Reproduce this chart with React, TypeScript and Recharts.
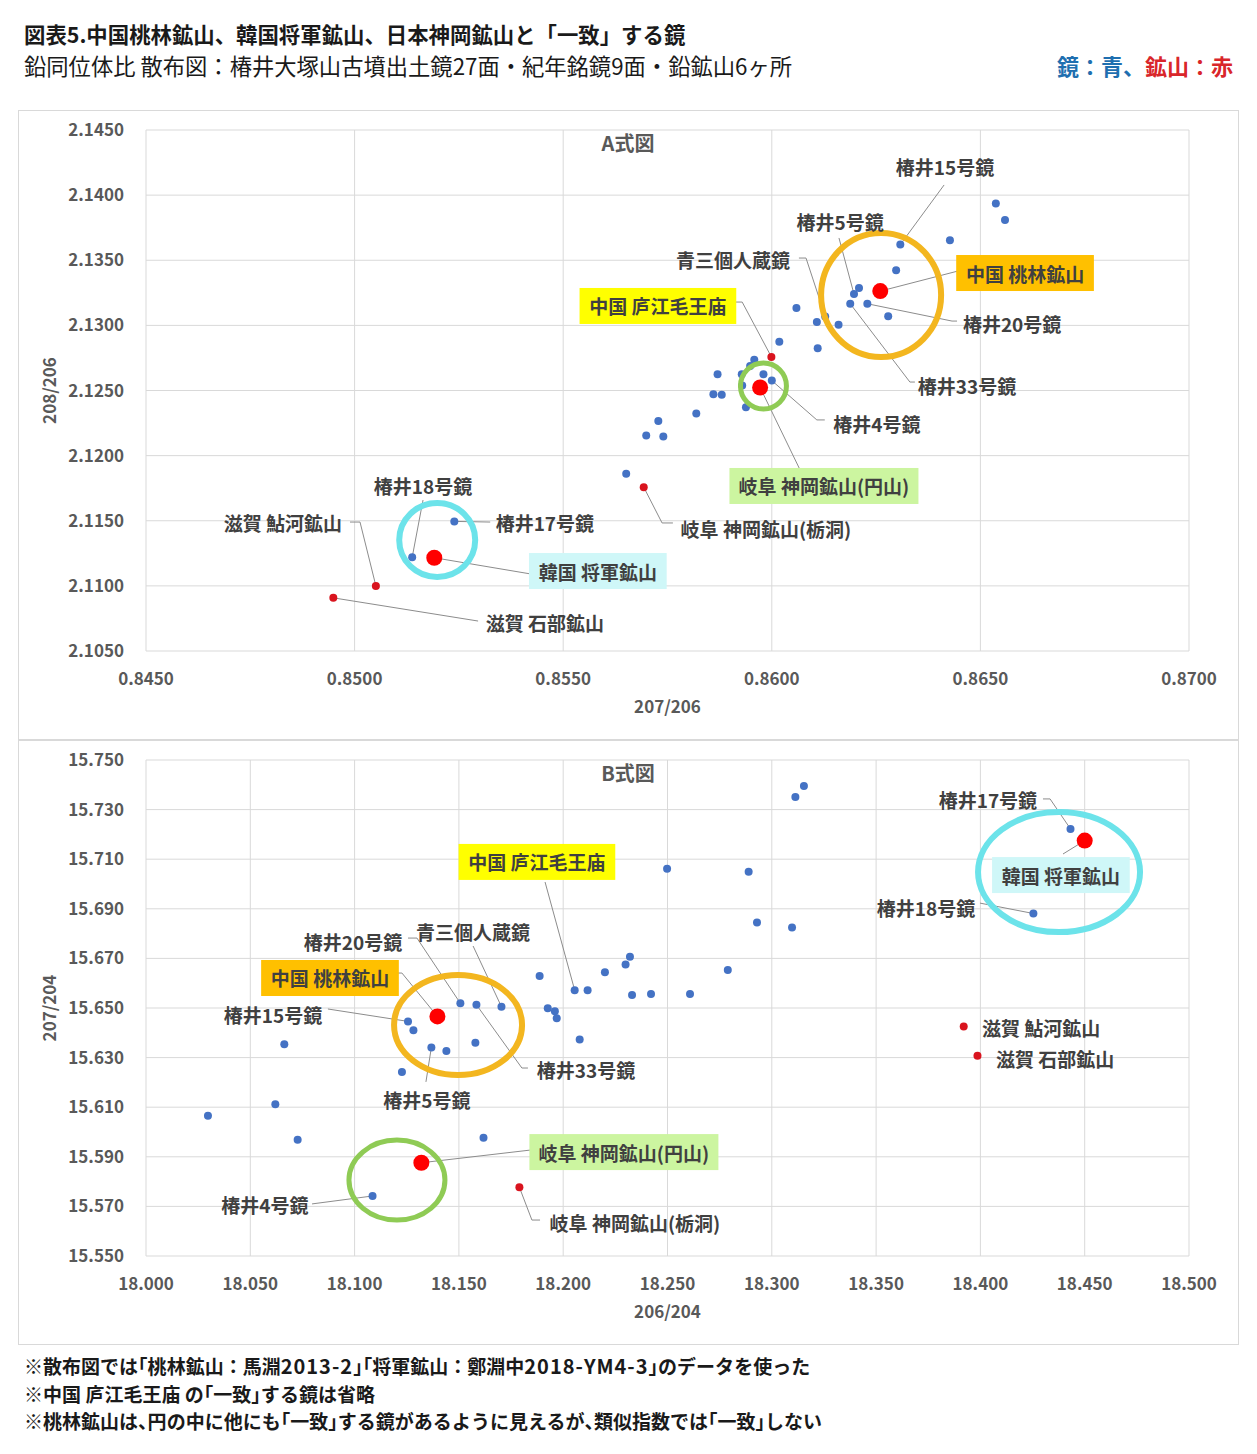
import React from 'react';
import {
  ScatterChart,
  Scatter,
  XAxis,
  YAxis,
  CartesianGrid,
  ReferenceDot,
  ReferenceLine,
} from 'recharts';

const FONT = '"Noto Sans CJK JP", "Noto Sans", sans-serif';

// ---- A式図 data (207/206 vs 208/206) ----
const mirrorsA = [
  [0.86537, 2.13936], [0.86559, 2.13809], [0.86427, 2.13653], [0.86308, 2.1362],
  [0.86298, 2.13423], [0.86209, 2.13286], [0.86197, 2.1324], [0.86188, 2.13166],
  [0.86229, 2.13166], [0.86279, 2.13071], [0.86059, 2.13133], [0.86108, 2.13026],
  [0.8616, 2.13005], [0.86128, 2.13069], [0.8611, 2.12824], [0.86018, 2.12875],
  [0.85958, 2.12737], [0.85948, 2.12688], [0.8587, 2.12624], [0.85928, 2.12624],
  [0.8598, 2.12624], [0.86, 2.12576], [0.8586, 2.12471], [0.8588, 2.12468],
  [0.85929, 2.12538], [0.85938, 2.12372], [0.85819, 2.12324], [0.85728, 2.12266],
  [0.85699, 2.12154], [0.8574, 2.12146], [0.85651, 2.1186], [0.85239, 2.11495],
  [0.85138, 2.11219],
].map(([x, y]) => ({ x, y }));

const mainMinesA = [
  [0.8626, 2.13263], // 桃林
  [0.85972, 2.12523], // 円山
  [0.85191, 2.11216], // 将軍
].map(([x, y]) => ({ x, y }));

const otherMinesA = [
  [0.85999, 2.12758], // 庐江毛王庙
  [0.85693, 2.11758], // 栃洞
  [0.85051, 2.11], // 鮎河
  [0.84949, 2.10908], // 石部
].map(([x, y]) => ({ x, y }));

const xTicksA = [0.845, 0.85, 0.855, 0.86, 0.865, 0.87];
const yTicksA = [2.105, 2.11, 2.115, 2.12, 2.125, 2.13, 2.135, 2.14, 2.145];

// ---- B式図 data (206/204 vs 207/204) ----
const mirrorsB = [
  [18.2498, 15.7061], [18.1887, 15.6629], [18.2055, 15.6572], [18.2117, 15.6572],
  [18.22, 15.6644], [18.2299, 15.6675], [18.232, 15.6707], [18.233, 15.6552],
  [18.2421, 15.6556], [18.2608, 15.6556], [18.1926, 15.6499], [18.196, 15.6487],
  [18.1969, 15.6459], [18.2079, 15.6373], [18.1507, 15.6519], [18.1584, 15.6513],
  [18.1704, 15.6505], [18.1256, 15.6446], [18.1282, 15.641], [18.1368, 15.6341],
  [18.144, 15.6327], [18.1579, 15.636], [18.0663, 15.6354], [18.1227, 15.6242],
  [18.0297, 15.6066], [18.062, 15.6112], [18.0727, 15.5969], [18.1618, 15.5977],
  [18.1086, 15.5742], [18.3154, 15.7395], [18.3113, 15.7351], [18.2889, 15.7049],
  [18.2929, 15.6845], [18.3097, 15.6825], [18.2789, 15.6653], [18.4432, 15.7222],
  [18.4254, 15.6881],
].map(([x, y]) => ({ x, y }));

const mainMinesB = [
  [18.1397, 15.6466], // 桃林
  [18.132, 15.5876], // 円山
  [18.45, 15.7175], // 将軍
].map(([x, y]) => ({ x, y }));

const otherMinesB = [
  [18.179, 15.5777], // 栃洞
  [18.392, 15.6425], // 鮎河
  [18.3986, 15.6307], // 石部
].map(([x, y]) => ({ x, y }));

const xTicksB = [18.0, 18.05, 18.1, 18.15, 18.2, 18.25, 18.3, 18.35, 18.4, 18.45, 18.5];
const yTicksB = [15.55, 15.57, 15.59, 15.61, 15.63, 15.65, 15.67, 15.69, 15.71, 15.73, 15.75];

// ---- annotations ----
const YELLOW = '#FFFF00';
const ORANGE = '#FFC000';
const LIME = '#CCF5A0';
const AQUA = '#CFF7F8';

const labelsA = [
  { text: '椿井15号鏡', x: 0.86415, y: 2.14216 },
  { text: '椿井5号鏡', x: 0.86164, y: 2.13801 },
  { text: '青三個人蔵鏡', x: 0.85907, y: 2.13502 },
  { text: '中国 庐江毛王庙', x: 0.85727, y: 2.13149, bg: YELLOW },
  { text: '中国 桃林鉱山', x: 0.86607, y: 2.13402, bg: ORANGE },
  { text: '椿井20号鏡', x: 0.86576, y: 2.13018 },
  { text: '椿井33号鏡', x: 0.86468, y: 2.12535 },
  { text: '椿井4号鏡', x: 0.86252, y: 2.12243 },
  { text: '岐阜 神岡鉱山(円山)', x: 0.86125, y: 2.11767, bg: LIME },
  { text: '岐阜 神岡鉱山(栃洞)', x: 0.85986, y: 2.11444 },
  { text: '椿井18号鏡', x: 0.85164, y: 2.11774 },
  { text: '椿井17号鏡', x: 0.85456, y: 2.11483 },
  { text: '韓国 将軍鉱山', x: 0.85583, y: 2.11114, bg: AQUA },
  { text: '滋賀 鮎河鉱山', x: 0.84828, y: 2.11483 },
  { text: '滋賀 石部鉱山', x: 0.85456, y: 2.10722 },
];

const leadersA = [
  [[0.86308, 2.1362], [0.86413, 2.14078]],
  [[0.86161, 2.13671], [0.86197, 2.1324]],
  [[0.86065, 2.13517], [0.86082, 2.13517], [0.86128, 2.13069]],
  [[0.85914, 2.13179], [0.85929, 2.13179], [0.85999, 2.12758]],
  [[0.8626, 2.13263], [0.86446, 2.13417]],
  [[0.86229, 2.13166], [0.86432, 2.13033], [0.86444, 2.13033]],
  [[0.86188, 2.13166], [0.86331, 2.12565], [0.86343, 2.12565]],
  [[0.86, 2.12576], [0.86108, 2.12274], [0.86127, 2.12274]],
  [[0.85972, 2.12523], [0.86068, 2.11889]],
  [[0.85693, 2.11758], [0.85737, 2.11483], [0.85763, 2.11483]],
  [[0.85164, 2.11659], [0.85138, 2.11219]],
  [[0.85239, 2.11495], [0.85325, 2.1149]],
  [[0.85191, 2.11216], [0.85423, 2.11091]],
  [[0.84989, 2.1149], [0.85013, 2.1149], [0.85051, 2.11]],
  [[0.84949, 2.10908], [0.85296, 2.1073]],
];

const ringsA = [
  { x: 0.86262, y: 2.13233, rx: 60, ry: 62, color: '#F3B61F', w: 6 },
  { x: 0.8598, y: 2.12535, rx: 23, ry: 23, color: '#8FCB55', w: 5 },
  { x: 0.85198, y: 2.11352, rx: 38, ry: 37, color: '#6CE3EA', w: 6 },
];

const labelsB = [
  { text: '中国 庐江毛王庙', x: 18.1874, y: 15.7089, bg: YELLOW },
  { text: '青三個人蔵鏡', x: 18.1568, y: 15.681 },
  { text: '椿井20号鏡', x: 18.0992, y: 15.677 },
  { text: '中国 桃林鉱山', x: 18.0882, y: 15.6621, bg: ORANGE },
  { text: '椿井15号鏡', x: 18.0609, y: 15.6472 },
  { text: '椿井33号鏡', x: 18.2109, y: 15.6254 },
  { text: '椿井5号鏡', x: 18.1347, y: 15.6133 },
  { text: '岐阜 神岡鉱山(円山)', x: 18.2291, y: 15.5919, bg: LIME },
  { text: '椿井4号鏡', x: 18.057, y: 15.5706 },
  { text: '岐阜 神岡鉱山(栃洞)', x: 18.2344, y: 15.5637 },
  { text: '椿井17号鏡', x: 18.4036, y: 15.7339 },
  { text: '韓国 将軍鉱山', x: 18.4386, y: 15.7036, bg: AQUA },
  { text: '椿井18号鏡', x: 18.3739, y: 15.6907 },
  { text: '滋賀 鮎河鉱山', x: 18.4291, y: 15.6423 },
  { text: '滋賀 石部鉱山', x: 18.4358, y: 15.6298 },
];

const leadersB = [
  [[18.1913, 15.7008], [18.2055, 15.6572]],
  [[18.1568, 15.675], [18.1704, 15.6505]],
  [[18.1256, 15.6782], [18.1299, 15.6782], [18.1507, 15.6519]],
  [[18.1203, 15.6641], [18.1227, 15.6641], [18.1397, 15.6466]],
  [[18.0872, 15.6496], [18.1256, 15.6446]],
  [[18.1584, 15.6513], [18.1802, 15.6258], [18.1831, 15.6258]],
  [[18.1342, 15.6202], [18.1368, 15.6341]],
  [[18.132, 15.5876], [18.1841, 15.5927]],
  [[18.0796, 15.571], [18.1086, 15.5742]],
  [[18.179, 15.5777], [18.185, 15.5645], [18.1889, 15.5645]],
  [[18.43, 15.7343], [18.4334, 15.7343], [18.4432, 15.7222]],
  [[18.45, 15.7175], [18.4396, 15.7121]],
  [[18.3998, 15.6923], [18.4254, 15.6881]],
];

const ringsB = [
  { x: 18.1496, y: 15.6431, rx: 64, ry: 50, color: '#F3B61F', w: 6 },
  { x: 18.1203, y: 15.5806, rx: 48, ry: 40, color: '#8FCB55', w: 5 },
  { x: 18.4377, y: 15.7048, rx: 81, ry: 60, color: '#6CE3EA', w: 6 },
];

const notes = [
  '※散布図では「桃林鉱山：馬淵2013-2」「将軍鉱山：鄭淵中2018-YM4-3」のデータを使った',
  '※中国 庐江毛王庙 の「一致」する鏡は省略',
  '※桃林鉱山は、円の中に他にも「一致」する鏡があるように見えるが、類似指数では「一致」しない',
];

// rough text width so the coloured label boxes fit
const textWidth = (s: string, fs: number) => {
  let w = 0;
  for (const ch of s) {
    if (ch === ' ') w += 0.3;
    else if (ch === '(' || ch === ')') w += 0.35;
    else if (/[0-9]/.test(ch)) w += 0.56;
    else w += 1;
  }
  return w * fs;
};

// half-width brackets / commas like the original notes, slightly wider latin runs
const tight = (s: string) =>
  s.split(/([A-Za-z0-9\-]+)/).map((part, i) => {
    if (/^[A-Za-z0-9\-]+$/.test(part))
      return (
        <span key={i} style={{ fontSize: 20, letterSpacing: 1 }}>
          {part}
        </span>
      );
    return Array.from(part).map((ch, j) => {
      if (ch === '「' || ch === '」' || ch === '、')
        return (
          <span key={i + '-' + j} style={{ fontFeatureSettings: '"halt"' }}>
            {ch}
          </span>
        );
      return ch;
    });
  });

const LABEL_FS = 19;

type Label = { text: string; x: number; y: number; bg?: string };
type Ring = { x: number; y: number; rx: number; ry: number; color: string; w: number };

const dot = (r: number, fill: string) => (p: any) => (
  <circle cx={p.cx} cy={p.cy} r={r} fill={fill} />
);

type PanelProps = {
  top: number;
  height: number;
  title: string;
  xTitle: string;
  yTitle: string;
  digits: number;
  xTicks: number[];
  yTicks: number[];
  mirrors: { x: number; y: number }[];
  mainMines: { x: number; y: number }[];
  otherMines: { x: number; y: number }[];
  labels: Label[];
  leaders: number[][][];
  rings: Ring[];
};

const Panel: React.FC<PanelProps> = (props) => {
  const { top, height, digits, xTicks, yTicks } = props;
  const fmt = (v: number) => v.toFixed(digits);
  const tickStyle = { fill: '#595959', fontSize: 17, fontWeight: 700, fontFamily: FONT };
  const segments: { a: number[]; b: number[] }[] = [];
  props.leaders.forEach((pl) => {
    for (let i = 0; i < pl.length - 1; i++) segments.push({ a: pl[i], b: pl[i + 1] });
  });

  return (
    <>
      <div
        style={{
          position: 'absolute',
          left: 18,
          top,
          width: 1221,
          height,
          border: '1px solid #d9d9d9',
          boxSizing: 'border-box',
        }}
      />
      <div style={{ position: 'absolute', left: 18, top, width: 1221, height }}>
        <ScatterChart width={1221} height={height} margin={{ top: 20, right: 50, left: 0, bottom: 0 }}>
          <CartesianGrid stroke="#d9d9d9" />
          <XAxis
            type="number"
            dataKey="x"
            domain={[xTicks[0], xTicks[xTicks.length - 1]]}
            ticks={xTicks}
            tickFormatter={fmt}
            axisLine={false}
            tickLine={false}
            tickSize={20}
            tick={tickStyle}
            height={89}
            label={{
              value: props.xTitle,
              position: 'insideBottom',
              offset: 27,
              fill: '#595959',
              fontSize: 17,
              fontWeight: 700,
              fontFamily: FONT,
            }}
          />
          <YAxis
            type="number"
            dataKey="y"
            domain={[yTicks[0], yTicks[yTicks.length - 1]]}
            ticks={yTicks}
            tickFormatter={fmt}
            axisLine={false}
            tickLine={false}
            tickSize={20}
            tick={tickStyle}
            width={128}
            label={{
              value: props.yTitle,
              angle: -90,
              position: 'insideLeft',
              offset: 32,
              fill: '#595959',
              fontSize: 17,
              fontWeight: 700,
              fontFamily: FONT,
              style: { textAnchor: 'middle' },
            }}
          />
          <Scatter data={props.mirrors} fill="#4472C4" shape={dot(4, '#4472C4')} isAnimationActive={false} />
          <Scatter data={props.otherMines} fill="#D9141E" shape={dot(4, '#D9141E')} isAnimationActive={false} />
          <Scatter data={props.mainMines} fill="#FF0000" shape={dot(8, '#FF0000')} isAnimationActive={false} />
          {props.rings.map((r, i) => (
            <ReferenceDot
              key={'ring' + i}
              x={r.x}
              y={r.y}
              r={1}
              shape={(p: any) => (
                <ellipse cx={p.cx} cy={p.cy} rx={r.rx} ry={r.ry} fill="none" stroke={r.color} strokeWidth={r.w} />
              )}
            />
          ))}
          {segments.map((s, i) => (
            <ReferenceLine
              key={'seg' + i}
              segment={[
                { x: s.a[0], y: s.a[1] },
                { x: s.b[0], y: s.b[1] },
              ]}
              stroke="#8c8c8c"
              strokeWidth={1}
            />
          ))}
          {props.labels.map((lab, i) => (
            <ReferenceDot
              key={'lab' + i}
              x={lab.x}
              y={lab.y}
              r={1}
              shape={(p: any) => {
                const w = textWidth(lab.text, LABEL_FS) + 18;
                return (
                  <g>
                    {lab.bg && <rect x={p.cx - w / 2} y={p.cy - 18} width={w} height={36} fill={lab.bg} />}
                    <text
                      x={p.cx}
                      y={p.cy}
                      textAnchor="middle"
                      dominantBaseline="central"
                      fill="#404040"
                      fontSize={LABEL_FS}
                      fontWeight={700}
                      fontFamily={FONT}
                    >
                      {lab.text}
                    </text>
                  </g>
                );
              }}
            />
          ))}
        </ScatterChart>
      </div>
      <div
        style={{
          position: 'absolute',
          left: 528,
          top: top + 20,
          width: 200,
          textAlign: 'center',
          fontFamily: FONT,
          fontWeight: 700,
          fontSize: 20,
          lineHeight: '26px',
          color: '#595959',
        }}
      >
        {props.title}
      </div>
    </>
  );
};

export default function App() {
  return (
    <div
      style={{
        position: 'absolute',
        left: 0,
        top: 0,
        width: 1257,
        height: 1454,
        background: '#fff',
        fontFamily: FONT,
        color: '#1a1a1a',
      }}
    >
      <div style={{ position: 'absolute', left: 24, top: 21, fontSize: 21.4, fontWeight: 700, lineHeight: '26px' }}>
        図表5.中国桃林鉱山、韓国将軍鉱山、日本神岡鉱山と「一致」する鏡
      </div>
      <div style={{ position: 'absolute', left: 24, top: 52, fontSize: 22.3, lineHeight: '26px' }}>
        鉛同位体比 散布図：椿井大塚山古墳出土鏡27面・紀年銘鏡9面・鉛鉱山6ヶ所
      </div>
      <div
        style={{
          position: 'absolute',
          right: 24,
          top: 52,
          fontSize: 22,
          fontWeight: 700,
          lineHeight: '26px',
        }}
      >
        <span style={{ color: '#1F6FB0' }}>鏡：青、</span>
        <span style={{ color: '#D9262A' }}>鉱山：赤</span>
      </div>

      <Panel
        top={110}
        height={630}
        title="A式図"
        xTitle="207/206"
        yTitle="208/206"
        digits={4}
        xTicks={xTicksA}
        yTicks={yTicksA}
        mirrors={mirrorsA}
        mainMines={mainMinesA}
        otherMines={otherMinesA}
        labels={labelsA}
        leaders={leadersA}
        rings={ringsA}
      />
      <Panel
        top={740}
        height={605}
        title="B式図"
        xTitle="206/204"
        yTitle="207/204"
        digits={3}
        xTicks={xTicksB}
        yTicks={yTicksB}
        mirrors={mirrorsB}
        mainMines={mainMinesB}
        otherMines={otherMinesB}
        labels={labelsB}
        leaders={leadersB}
        rings={ringsB}
      />

      <div style={{ position: 'absolute', left: 24, top: 1352, fontSize: 19, fontWeight: 700, lineHeight: '27.5px' }}>
        {notes.map((n, i) => (
          <div key={i} style={{ whiteSpace: 'nowrap' }}>
            {tight(n)}
          </div>
        ))}
      </div>
    </div>
  );
}
